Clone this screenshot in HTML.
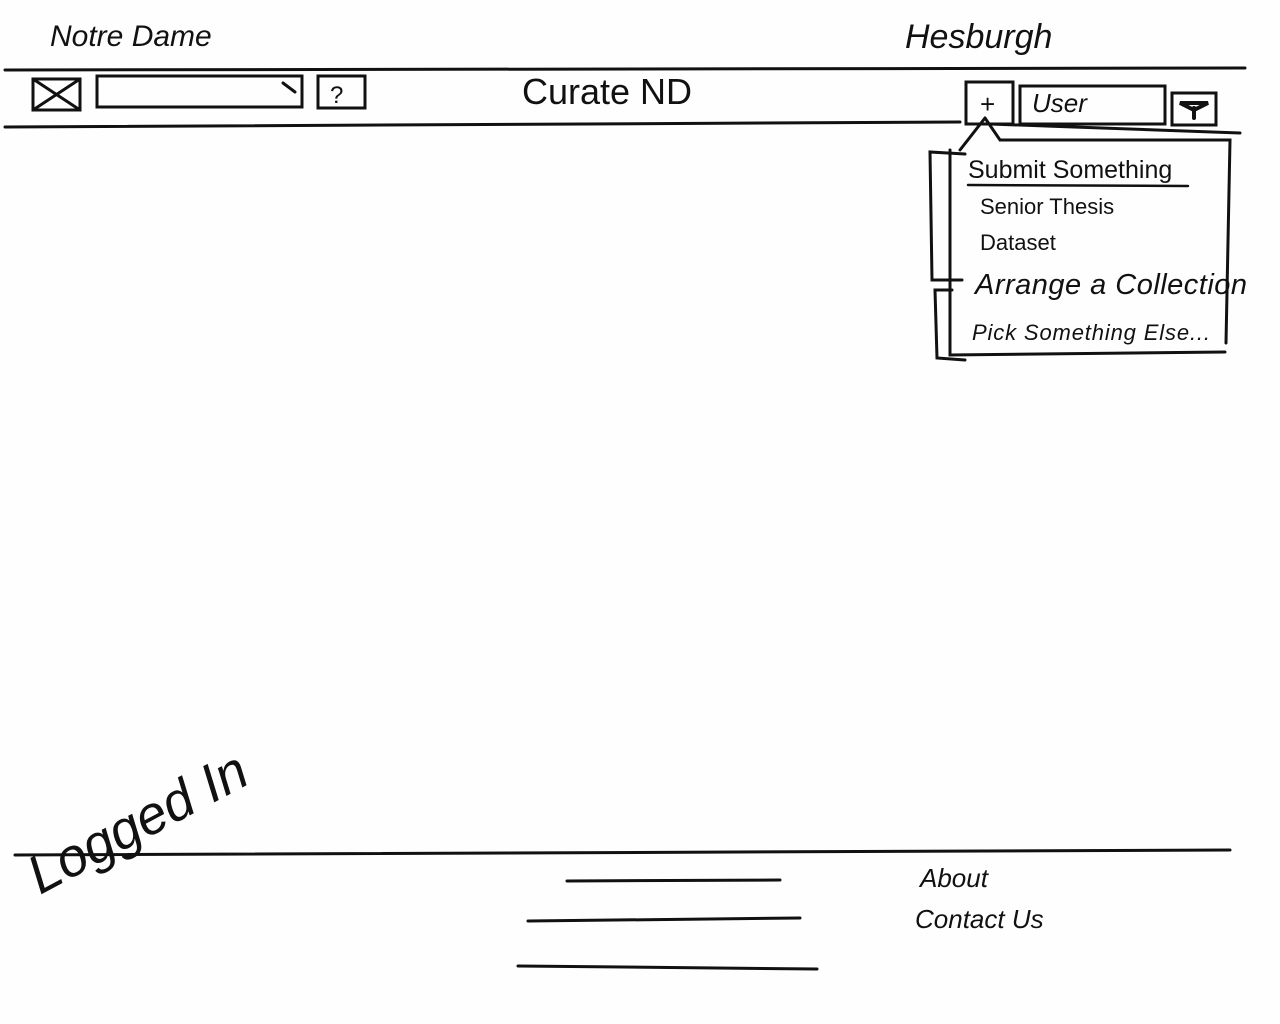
<!DOCTYPE html>
<html><head><meta charset="utf-8"><style>
html,body{margin:0;padding:0;background:#fff;}
svg{display:block}
text{font-family:"Liberation Sans",sans-serif;fill:#111;}
</style></head><body>
<svg width="1280" height="1024" viewBox="0 0 1280 1024" xmlns="http://www.w3.org/2000/svg">
<rect width="1280" height="1024" fill="#fefefe"/>
<g stroke="#111" stroke-width="3" fill="none" stroke-linecap="round">
<path d="M5 70 L1245 68"/>
<path d="M5 127 L960 122"/>
<path d="M990 124 L1240 133"/>
<rect x="33" y="79" width="47" height="31"/>
<path d="M33 79 L80 110 M33 110 L80 79"/>
<rect x="97" y="76" width="205" height="31"/>
<path d="M283 83 L295 92"/>
<rect x="318" y="76" width="47" height="32"/>
<rect x="966" y="82" width="47" height="42"/>
<rect x="1020" y="86" width="145" height="38"/>
<rect x="1172" y="93" width="44" height="32"/>
<path d="M1180 103 L1208 103 L1194 110 Z M1194 108 L1194 118" stroke-width="4"/>
<path d="M985 118 L960 150 M985 118 L1000 140 L1230 140 L1226 343"/>
<path d="M950 150 L950 355 L1225 352"/>
<path d="M968 185 L1188 186" stroke-width="2.5"/>
<path d="M965 154 L930 152 L932 280 L962 280"/>
<path d="M952 290 L935 290 L937 358 L965 360"/>
<path d="M15 855 L1230 850"/>
<path d="M567 881 L780 880"/>
<path d="M528 921 L800 918"/>
<path d="M518 966 L817 969"/>
</g>
<text x="50" y="46" font-size="30" font-style="italic">Notre Dame</text>
<text x="905" y="48" font-size="34" font-style="italic">Hesburgh</text>
<text x="330" y="103" font-size="24">?</text>
<text x="522" y="104" font-size="36">Curate ND</text>
<text x="980" y="113" font-size="26">+</text>
<text x="1032" y="112" font-size="26" font-style="italic">User</text>
<text x="968" y="178" font-size="25">Submit Something</text>
<text x="980" y="214" font-size="22">Senior Thesis</text>
<text x="980" y="250" font-size="22">Dataset</text>
<text x="975" y="294" font-size="29" font-style="italic" textLength="272">Arrange a Collection</text>
<text x="972" y="340" font-size="22" font-style="italic" textLength="238">Pick Something Else...</text>
<text x="920" y="887" font-size="26" font-style="italic">About</text>
<text x="915" y="928" font-size="26" font-style="italic">Contact Us</text>
<text x="40" y="895" font-size="54" font-style="italic" transform="rotate(-28 40 895)">Logged In</text>
</svg>
</body></html>
